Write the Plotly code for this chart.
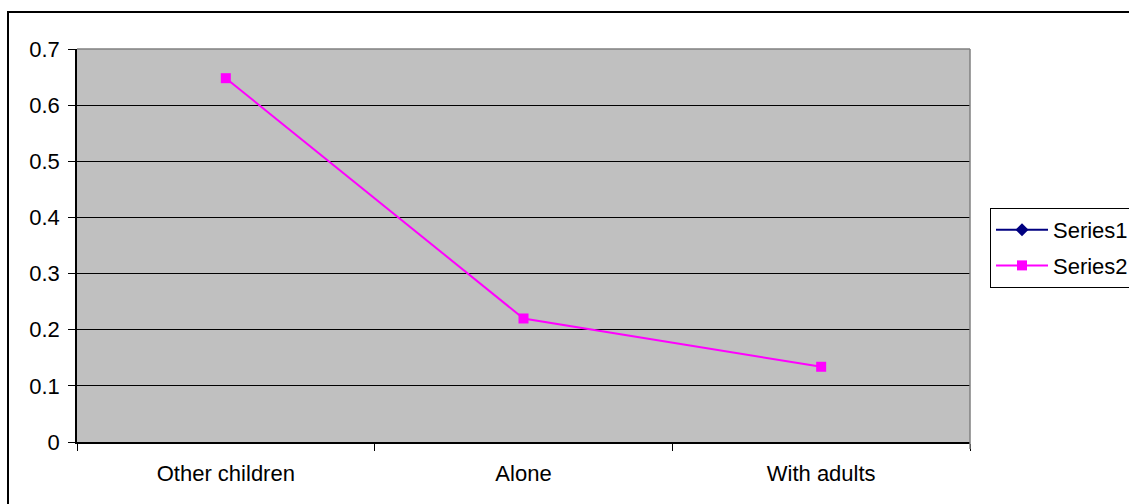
import plotly.graph_objects as go

categories = ["Other children", "Alone", "With adults"]
series1 = [None, None, None]
series2 = [0.648, 0.22, 0.134]
y_ticks = [0, 0.1, 0.2, 0.3, 0.4, 0.5, 0.6, 0.7]

W, H = 1129, 504
L, R, T, B = 77, 970, 49, 442  # plot area in pixels


def px(x):
    return (x - L) / (R - L)


def py(y):
    return (B - y) / (B - T)


FONT = "Liberation Sans, Arial, sans-serif"
FS = 22

fig = go.Figure()
fig.add_trace(go.Scatter(
    x=categories, y=series1, name="Series1", mode="lines+markers",
    line=dict(color="#000080", width=2),
    marker=dict(symbol="diamond", size=10, color="#000080"),
    legendgroup="s1",
))
fig.add_trace(go.Scatter(
    x=categories, y=series2, name="Series2", mode="lines+markers",
    line=dict(color="#FF00FF", width=2),
    marker=dict(symbol="square", size=10, color="#FF00FF"),
    legendgroup="s2",
))

shapes = [
    # top and right edges of the plot area
    dict(type="line", xref="paper", yref="paper", x0=0, x1=1, y0=1, y1=1,
         line=dict(color="#808080", width=1.5), layer="above"),
    dict(type="line", xref="paper", yref="paper", x0=1, x1=1, y0=py(449), y1=1,
         line=dict(color="#808080", width=1.5), layer="above"),
    # chart frame
    dict(type="rect", xref="paper", yref="paper",
         x0=px(8), x1=px(1140), y0=py(515), y1=py(12),
         line=dict(color="black", width=2), fillcolor="rgba(0,0,0,0)", layer="above"),
]

fig.update_layout(
    width=W, height=H,
    margin=dict(l=L, r=W - R, t=T, b=H - B, pad=0, autoexpand=False),
    paper_bgcolor="white",
    plot_bgcolor="#C0C0C0",
    font=dict(family=FONT, size=FS, color="black"),
    showlegend=True,
    legend=dict(
        x=px(990), y=py(208), xanchor="left", yanchor="top",
        bordercolor="black", borderwidth=1, bgcolor="white",
        font=dict(family=FONT, size=FS, color="black"),
        traceorder="grouped", tracegroupgap=4, itemwidth=52,
    ),
    shapes=shapes,
    xaxis=dict(
        type="category", tickson="boundaries", range=[-0.5, 2.5],
        showgrid=False, showline=True, linecolor="black", linewidth=1.5,
        ticks="outside", ticklen=7, tickcolor="black", tickwidth=1,
        tickfont=dict(family=FONT, size=FS, color="black"),
        ticklabelstandoff=11,
        fixedrange=True,
    ),
    yaxis=dict(
        range=[0, 0.7], tickvals=y_ticks, ticktext=[f"{v:g}" for v in y_ticks],
        showgrid=True, gridcolor="black", gridwidth=1,
        zeroline=True, zerolinecolor="black", zerolinewidth=1.5,
        showline=True, linecolor="black", linewidth=1.5,
        ticks="outside", ticklen=7, tickcolor="black", tickwidth=1,
        tickfont=dict(family=FONT, size=FS, color="black"),
        ticklabelstandoff=4,
        fixedrange=True,
    ),
)

fig.write_html("out.html")
